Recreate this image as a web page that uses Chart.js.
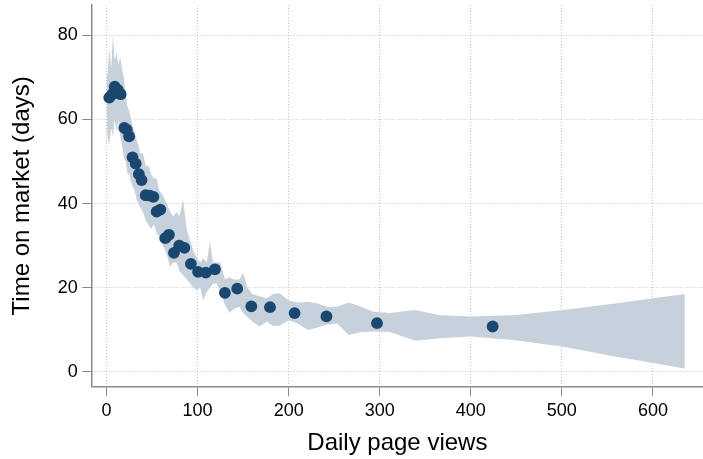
<!DOCTYPE html>
<html>
<head>
<meta charset="utf-8">
<script src="https://cdn.jsdelivr.net/npm/chart.js@4.4.1/dist/chart.umd.min.js"></script>
<style>
    html, body { margin: 0; padding: 0; background: #fff; }
    #wrap { width: 703px; height: 459px; }
</style>
</head>
<body>
<div id="wrap"><canvas id="chart" width="703" height="459"></canvas></div>
<script>
// tick labels
const xTicks = [0, 100, 200, 300, 400, 500, 600];
const yTicks = [0, 20, 40, 60, 80];

// binned scatter: daily page views vs time on market
const pageViews = [3, 6.3, 9, 12.4, 15.5, 19.5, 22.2, 24.8, 28.5, 32, 35.5, 38.5, 43, 47.5, 51.5,
    55, 59, 64.5, 68.5, 74, 79.8, 85.5, 92.6, 100.5, 109, 119, 130, 143.5, 159, 179.5, 206.5,
    241.5, 297, 424];
const daysOnMarket = [65.2, 66, 67.8, 67, 66, 58, 57.6, 56, 51, 49.5, 47, 45.6, 42, 41.9, 41.6,
    38.1, 38.6, 31.8, 32.6, 28.3, 30, 29.5, 25.7, 23.8, 23.6, 24.4, 18.8, 19.8, 15.6, 15.4, 14,
    13.2, 11.6, 10.8];

// confidence band
const bandX = [0, 1, 3, 5, 7, 9, 11, 13, 15, 17, 19, 21, 23, 25, 27, 29, 31, 33, 35, 37, 40,
    43, 46, 49, 52, 55, 58, 62, 66, 70, 73, 77, 80, 84, 88, 92, 95, 99, 103, 106, 110, 113.5,
    117, 121, 125, 130, 135, 140, 146, 150, 155, 160, 168, 176, 183, 190, 200, 210, 221, 231,
    242, 253, 266, 280, 293, 311, 339, 366, 400, 447, 502, 560, 635];
const bandUpper = [74, 70, 77, 72, 80, 74, 76, 73, 75, 72, 70, 66, 63, 62, 60, 58, 57, 55, 54,
    52, 52, 49, 49, 47, 46, 46, 43, 42, 40, 38, 37, 38, 37, 41, 34, 31, 29, 27, 26, 27, 26, 31,
    26, 26, 26, 22, 22.5, 22, 22, 23.5, 20, 18.5, 18, 17.5, 18.5, 18.7, 17, 16.5, 16.7, 16.3,
    15.5, 15.5, 16.5, 15.5, 14.3, 14, 14.7, 13.5, 13.2, 13.5, 14.7, 16.3, 18.5];
const bandLower = [62, 56, 54, 58, 56, 60, 57, 60, 56, 54, 51, 50, 47, 47, 45, 44, 43, 41, 40,
    39, 38, 36, 35, 34, 35, 33, 32, 30, 28, 25, 26, 26, 24, 23, 22, 21, 20, 19.5, 20, 17, 19, 20,
    21, 21, 19, 16, 14, 15, 15.5, 14, 13, 12, 10.8, 12, 11, 11, 12.3, 11.5, 10, 10.5, 11.2, 11.6,
    8.8, 9.5, 9.6, 9.5, 7.4, 8, 8.4, 7.6, 6, 3.6, 0.8];

const navy = 'rgb(26, 71, 111)';
const bandColor = 'rgb(198, 209, 219)';
const font = 'Liberation Sans, Arial, Helvetica, sans-serif';

function pairs(xs, ys) {
    return xs.map((x, i) => ({ x: x, y: ys[i] }));
}

// keep the plot region where the reference has it
function noEdgePadding(axis) {
    axis.paddingTop = 0;
    axis.paddingBottom = 0;
    axis.paddingLeft = 0;
    axis.paddingRight = 0;
}

const gridOpts = {
    color: '#c4c4c4',
    tickColor: '#8a8a8a',
    tickBorderDash: [],
    tickLength: 9.5,
    lineWidth: 1
};
const borderOpts = { display: true, color: '#8a8a8a', width: 1.5, dash: [1, 2] };

const ctx = document.getElementById('chart').getContext('2d');
new Chart(ctx, {
    type: 'scatter',
    data: {
        datasets: [
            {
                data: pairs(bandX, bandLower),
                showLine: true,
                borderWidth: 0,
                borderColor: 'rgba(0,0,0,0)',
                pointRadius: 0,
                fill: false,
                order: 2
            },
            {
                data: pairs(bandX, bandUpper),
                showLine: true,
                borderWidth: 0,
                borderColor: 'rgba(0,0,0,0)',
                backgroundColor: bandColor,
                pointRadius: 0,
                fill: '-1',
                order: 2
            },
            {
                data: pairs(pageViews, daysOnMarket),
                pointRadius: 5.9,
                pointBackgroundColor: navy,
                pointBorderColor: navy,
                pointBorderWidth: 0,
                order: 1
            }
        ]
    },
    options: {
        responsive: false,
        animation: false,
        layout: { autoPadding: false, padding: { top: 5, right: 0, left: 0, bottom: 0 } },
        plugins: {
            legend: { display: false },
            tooltip: { enabled: false }
        },
        scales: {
            x: {
                type: 'linear',
                min: -16.3,
                max: 655,
                afterBuildTicks: axis => { axis.ticks = xTicks.map(v => ({ value: v })); },
                afterFit: axis => { noEdgePadding(axis); axis.height = 72.3; },
                grid: gridOpts,
                border: borderOpts,
                ticks: {
                    color: '#000',
                    font: { family: font, size: 18 },
                    padding: 4,
                    maxRotation: 0
                },
                title: {
                    display: true,
                    text: 'Daily page views',
                    color: '#000',
                    font: { family: font, size: 24 },
                    padding: { top: 0, bottom: 1.5 }
                }
            },
            y: {
                type: 'linear',
                min: -3.5,
                max: 87.2,
                afterBuildTicks: axis => { axis.ticks = yTicks.map(v => ({ value: v })); },
                afterFit: axis => { noEdgePadding(axis); axis.width = 91.7; },
                grid: gridOpts,
                border: borderOpts,
                ticks: {
                    color: '#000',
                    font: { family: font, size: 18 },
                    padding: 4.5
                },
                title: {
                    display: true,
                    text: 'Time on market (days)',
                    color: '#000',
                    font: { family: font, size: 24 },
                    padding: { top: 8, bottom: 0 }
                }
            }
        }
    }
});
</script>
</body>
</html>
